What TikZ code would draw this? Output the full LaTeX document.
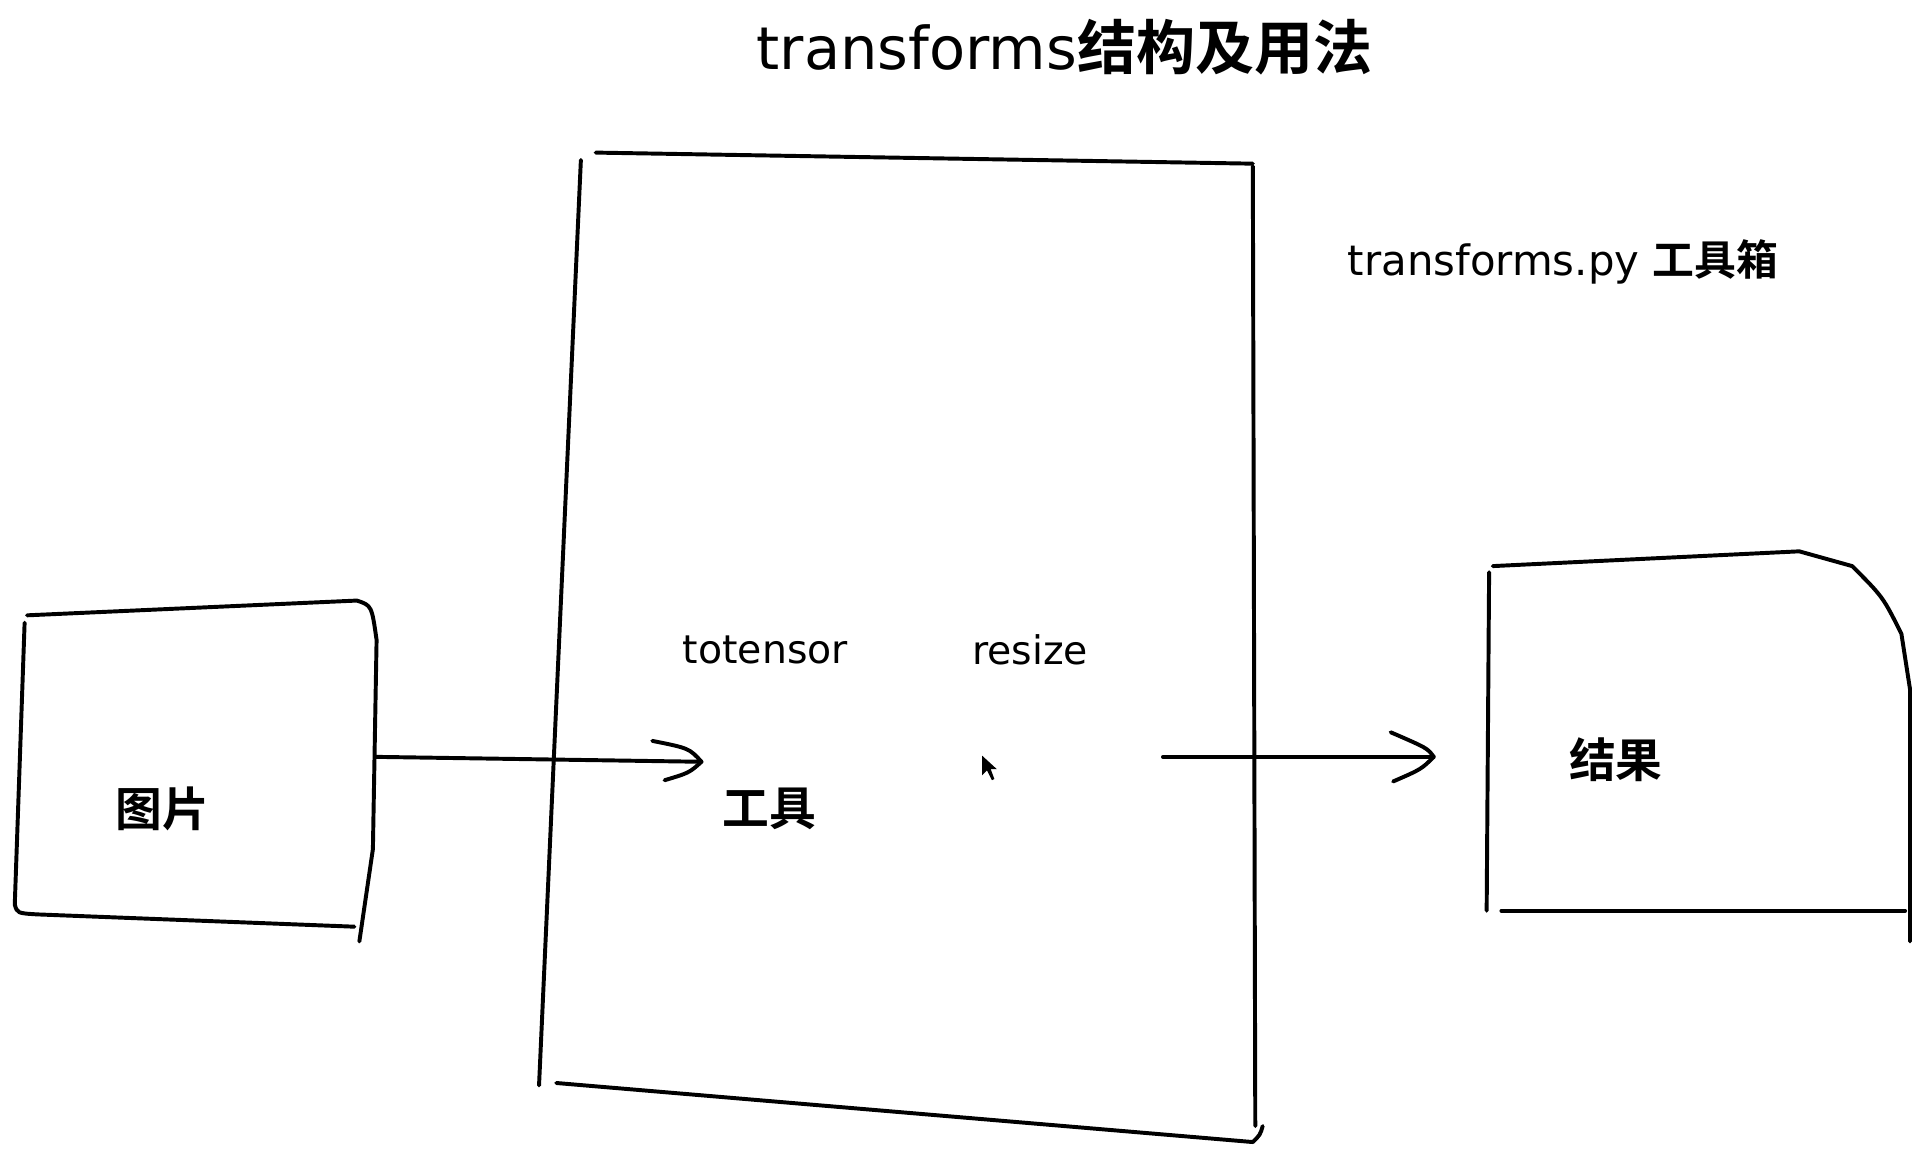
\documentclass[tikz,border=0pt]{standalone}
\usepackage{fontspec}
\setmainfont{DejaVu Sans}
\newfontfamily\cjk{Noto Sans CJK SC}[BoldFont={* Bold}]
\begin{document}
\begin{tikzpicture}[x=0.5pt,y=-0.5pt,line width=1.6pt,line cap=round,line join=round,
  lab/.style={font=\cjk\bfseries\fontsize{19}{19}\selectfont},
  hand/.style={font=\fontsize{16}{16}\selectfont}]
\useasboundingbox (0,0) rectangle (1565,940);
\fill[white] (0,0) rectangle (1565,940);
% title
\node (title) at (865,38) {\fontsize{24}{24}\selectfont transforms\cjk\bfseries 结构及用法};
\node (tpy) at (1270,213) {\fontsize{17}{17}\selectfont transforms.py \cjk\bfseries 工具箱};
% left box
\draw (22,500) -- (290,488) .. controls (302,492) .. (306,520) -- (303,690) -- (292,765);
\draw (20,506) -- (12,735) .. controls (14,742) .. (30,743) -- (288,753);
% middle box
\draw (484,124) -- (1018,133);
\draw (472,130) -- (438,882);
\draw (1018,135) -- (1020,915);
\draw (452,880) -- (1018,928) .. controls (1024,922) .. (1026,915);
% right box
\draw (1213,460) -- (1462,448) -- (1505,460) .. controls (1530,485) .. (1545,515) -- (1552,560) -- (1552,765);
\draw (1210,465) -- (1208,740);
\draw (1220,740) -- (1548,740);
% nodes
\node[lab] (img) at (132,657) {图片};
\node[lab] (tool) at (625,657) {工具};
\node[lab] (res) at (1313,617) {结果};
\node[hand] (tt) at (622,528) {totensor};
\node[hand] (rs) at (837,528) {resize};
\coordinate (a1) at (305,615);
\coordinate (a2) at (570,619);
\coordinate (b1) at (945,615);
\coordinate (b2) at (1165,615);
\draw (a1) -- (a2);
\draw (530,602) .. controls (560,608) .. (a2) .. controls (560,628) .. (540,634);
\draw (b1) -- (b2);
\draw (1130,595) .. controls (1160,608) .. (b2) .. controls (1155,625) .. (1132,635);
\fill (798,614) -- (798,630) -- (802,626) -- (806,634) -- (808,633) -- (805,625) -- (810,625) -- cycle;
\end{tikzpicture}
\end{document}
